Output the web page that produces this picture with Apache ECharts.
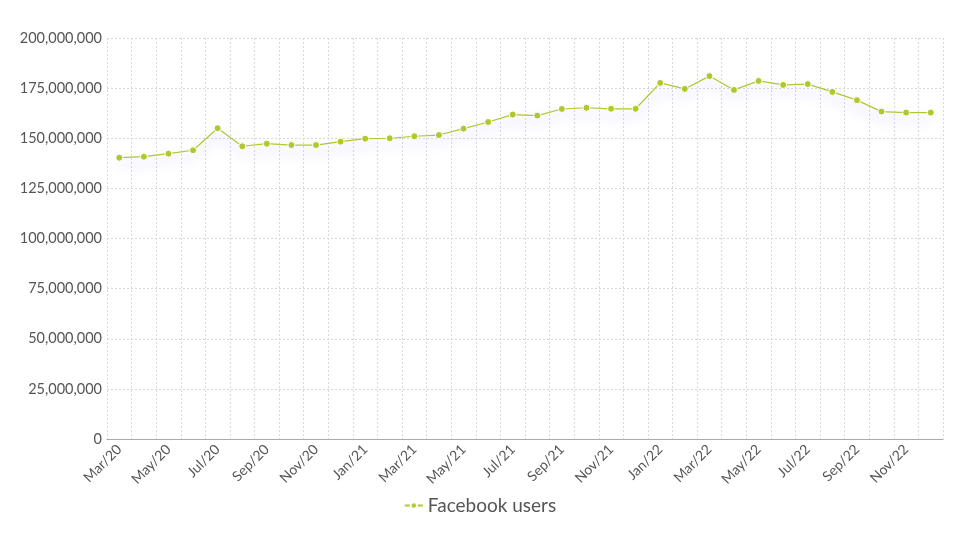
<!DOCTYPE html>
<html>
<head>
<meta charset="utf-8">
<script src="https://cdn.jsdelivr.net/npm/echarts@6/dist/echarts.min.js"></script>
<style>
  html, body { margin: 0; padding: 0; background: #fff; }
  #chart { width: 960px; height: 540px; }
</style>
</head>
<body>
<div id="chart"></div>
<script>
// monthly Facebook users, Mar 2020 - Dec 2022
const months = [
    'Mar/20', 'Apr/20', 'May/20', 'Jun/20', 'Jul/20', 'Aug/20', 'Sep/20', 'Oct/20', 'Nov/20', 'Dec/20',
    'Jan/21', 'Feb/21', 'Mar/21', 'Apr/21', 'May/21', 'Jun/21', 'Jul/21', 'Aug/21', 'Sep/21', 'Oct/21', 'Nov/21', 'Dec/21',
    'Jan/22', 'Feb/22', 'Mar/22', 'Apr/22', 'May/22', 'Jun/22', 'Jul/22', 'Aug/22', 'Sep/22', 'Oct/22', 'Nov/22', 'Dec/22'
];
const users = [
    140300000, 140800000, 142300000, 144000000, 155000000, 146000000, 147300000, 146600000, 146600000, 148300000,
    149800000, 150000000, 151000000, 151600000, 154800000, 158100000, 161800000, 161300000, 164600000, 165200000, 164700000, 164700000,
    177600000, 174600000, 181000000, 174100000, 178600000, 176600000, 177000000, 173100000, 169000000, 163300000, 162800000, 162800000
];
const seriesName = 'Facebook users';

const chart = echarts.init(document.getElementById('chart'));
const font = 'Lato, "Noto Sans", sans-serif';
chart.setOption({
    animation: false,
    textStyle: { fontFamily: font },
    grid: { left: 107, right: 17, top: 38, bottom: 101 },
    legend: {
        bottom: 20,
        left: 'center',
        itemWidth: 18,
        itemHeight: 8,
        itemGap: 6,
        textStyle: { fontSize: 19, color: '#555', fontFamily: font },
        data: [seriesName]
    },
    xAxis: {
        type: 'category',
        data: months,
        boundaryGap: true,
        axisLine: { lineStyle: { color: '#aaa8bb', width: 1 } },
        axisTick: { show: false },
        axisLabel: {
            interval: 1,
            rotate: 45,
            color: '#555',
            fontSize: 14,
            margin: 8
        },
        splitLine: {
            show: true,
            interval: 0,
            lineStyle: { color: '#d8d8d8', type: [2, 2] }
        }
    },
    yAxis: {
        type: 'value',
        min: 0,
        max: 200000000,
        interval: 25000000,
        axisLine: { show: false },
        axisTick: { show: false },
        axisLabel: {
            color: '#555',
            fontSize: 14.5,
            margin: 5,
            formatter: v => v.toLocaleString('en-US')
        },
        splitLine: { lineStyle: { color: '#d8d8d8', type: [2, 2] } }
    },
    series: [{
        name: seriesName,
        type: 'line',
        data: users,
        symbol: 'circle',
        symbolSize: 7,
        color: '#b2c72d',
        itemStyle: { color: '#b2c72d', borderColor: '#fff', borderWidth: 1 },
        lineStyle: {
            color: '#b2c72d',
            width: 1.2,
            shadowColor: 'rgba(100, 80, 255, 0.45)',
            shadowBlur: 12,
            shadowOffsetY: 7
        }
    }]
});
</script>
</body>
</html>
